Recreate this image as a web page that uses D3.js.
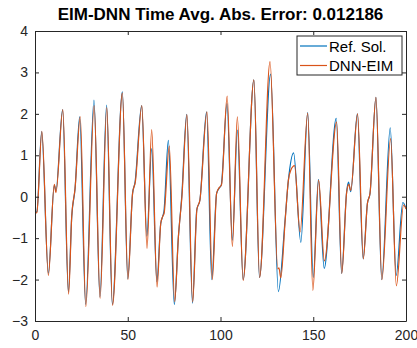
<!DOCTYPE html>
<html>
<head>
<meta charset="utf-8">
<script src="https://cdn.jsdelivr.net/npm/d3@7"></script>
<style>
  body { margin: 0; background: #fff; }
  text { font-family: "Liberation Sans", Arial, sans-serif; fill: #262626; }
</style>
</head>
<body>
<div id="chart"></div>
<script>
// reference solution (blue) at peaks, troughs and shoulders
const refTime = [0, 1.0, 3.6, 7.2, 10.4, 11.3, 14.9, 18.0, 19.8, 21.6, 24.1, 27.3, 31.8, 35.0, 38.6, 41.7,
  47.1, 50.0, 52.6, 53.9, 57.5, 60.3, 62.9, 65.7, 67.8, 68.8, 69.5, 71.9, 75.1, 77.3, 79.1, 81.8,
  84.9, 87.2, 88.9, 92.5, 95.3, 97.9, 99.2, 100.4, 103.5, 106.4, 109.1, 112.2, 118.0, 121.0, 127.0,
  131.2, 134.8, 136.6, 139.4, 143.3, 147.0, 150.0, 152.8, 155.9, 162.4, 165.3, 168.0, 169.0, 170.2,
  173.8, 176.9, 179.2, 180.6, 183.8, 186.9, 191.5, 194.7, 198.3, 200]
const refValue = [-0.38, -0.36, 1.57, -1.85, 0.28, 0.14, 2.1, -2.3, -0.48, 0.2, 1.93, -2.6, 2.33, -2.42, 2.21, -2.6,
  2.53, -1.98, 0.08, 0.34, 2.2, -0.95, 1.16, -2.05, -0.64, -0.48, -0.36, 1.36, -2.6, -0.97, 0.0, 1.99,
  -2.57, -0.32, -0.08, 2.05, -2.0, 0.08, 0.2, 0.28, 2.25, -1.05, 1.61, -2.0, 2.82, -1.95, 2.96,
  -2.29, -0.57, 0.4, 1.06, -1.1, 2.03, -1.95, 0.42, -1.73, 1.89, -1.85, 0.12, 0.35, 0.12,
  2.0, -1.5, -0.16, 0.08, 2.4, -2.0, 1.66, -1.9, -0.14, -0.28]

// DNN-EIM approximation (orange)
const eimTime = [0, 1.0, 3.7, 7.2, 10.4, 11.3, 15.0, 18.1, 19.8, 21.6, 24.4, 27.4, 31.9, 35.1, 38.7, 41.8,
  47.1, 50.1, 52.6, 54.1, 57.6, 60.4, 62.9, 65.8, 67.8, 68.8, 69.6, 72.4, 75.3, 77.3, 79.2, 81.9,
  85.0, 87.3, 88.9, 92.7, 95.6, 97.9, 99.3, 100.5, 103.6, 106.4, 109.1, 112.2, 118.0, 121.1, 126.7,
  130.9, 131.5, 132.5, 134.9, 136.6, 138.0, 139.9, 142.9, 147.0, 149.8, 152.9, 156.0, 162.6, 165.4,
  168.0, 169.2, 170.2, 173.9, 177.0, 179.2, 180.6, 183.8, 187.0, 191.7, 194.8, 198.7, 200]
const eimValue = [-0.4, -0.38, 1.58, -1.9, 0.3, 0.1, 2.1, -2.35, -0.48, 0.2, 1.93, -2.65, 2.2, -2.45, 2.15, -2.62,
  2.5, -2.0, 0.08, 0.36, 2.2, -1.25, 1.62, -2.18, -0.64, -0.48, -0.4, 1.22, -2.53, -0.97, 0.0, 1.98,
  -2.54, -0.3, -0.08, 2.05, -2.0, 0.08, 0.22, 0.28, 2.43, -1.2, 1.93, -2.02, 2.82, -1.95, 3.26,
  -1.74, -1.72, -1.96, -0.55, 0.4, 0.65, 0.75, -0.85, 2.02, -2.26, 0.4, -1.55, 1.8, -1.85,
  0.1, 0.3, 0.15, 2.0, -1.5, -0.16, 0.08, 2.4, -2.0, 1.4, -2.15, -0.2, -0.3]

const xTicks = [0, 50, 100, 150, 200]
const yTicks = [-3, -2, -1, 0, 1, 2, 3, 4]
const seriesNames = ["Ref. Sol.", "DNN-EIM"]
const seriesColors = ["#0072BD", "#D95319"]
const title = "EIM-DNN Time Avg. Abs. Error: 0.012186"

var margin = {top: 31, right: 11, bottom: 27, left: 35},
    width = 417 - margin.left - margin.right,
    height = 348 - margin.top - margin.bottom;

var svg = d3.select("#chart")
    .append("svg")
    .attr("width", 417)
    .attr("height", 348)

var g = svg.append("g")
    .attr("transform", "translate(" + margin.left + "," + margin.top + ")");

var x = d3.scaleLinear().domain([0, 200]).range([0, width]);
var y = d3.scaleLinear().domain([-3, 4]).range([height, 0]);

// series lines
var line = d3.line()
    .x(function(d) { return x(d[0]); })
    .y(function(d) { return y(d[1]); })
    .curve(d3.curveMonotoneX)

var series = [d3.zip(refTime, refValue), d3.zip(eimTime, eimValue)]
g.selectAll("path.series")
    .data(series)
    .enter()
    .append("path")
    .attr("class", "series")
    .attr("d", line)
    .attr("fill", "none")
    .attr("stroke", function(d, i) { return seriesColors[i]; })
    .attr("stroke-width", 1.2)

// axes, matlab style box with inward ticks
var axisColor = "#262626"
function styleAxis(sel) {
    sel.selectAll("path").attr("stroke", axisColor)
    sel.selectAll("line").attr("stroke", axisColor)
    sel.selectAll("text").attr("fill", axisColor).style("font-size", "14px")
}
g.append("g")
    .attr("transform", "translate(0," + height + ")")
    .call(d3.axisBottom(x).tickValues(xTicks).tickSizeInner(-4).tickSizeOuter(0).tickPadding(9))
    .call(styleAxis)
g.append("g")
    .call(d3.axisTop(x).tickValues(xTicks).tickSizeInner(-4).tickSizeOuter(0).tickFormat(""))
    .call(styleAxis)
g.append("g")
    .call(d3.axisLeft(y).tickValues(yTicks).tickSizeInner(-4).tickSizeOuter(0).tickPadding(7)
        .tickFormat(d3.format("d")))
    .call(styleAxis)
g.append("g")
    .attr("transform", "translate(" + width + ",0)")
    .call(d3.axisRight(y).tickValues(yTicks).tickSizeInner(-4).tickSizeOuter(0).tickFormat(""))
    .call(styleAxis)
g.selectAll(".domain").attr("stroke-width", 1)

// title
svg.append("text")
    .attr("x", margin.left + width / 2)
    .attr("y", 20)
    .attr("text-anchor", "middle")
    .style("font-size", "17px")
    .style("font-weight", "bold")
    .style("fill", "#000")
    .text(title)

// legend
var legend = g.append("g").attr("transform", "translate(" + (width - 109) + ",5)")
legend.append("rect")
    .attr("width", 105).attr("height", 39)
    .attr("fill", "#fff").attr("stroke", axisColor).attr("stroke-width", 1)
seriesNames.forEach(function(name, i) {
    var row = legend.append("g").attr("transform", "translate(0," + (10 + i * 19.5) + ")")
    row.append("line").attr("x1", 3).attr("x2", 30)
        .attr("stroke", seriesColors[i]).attr("stroke-width", 1.2)
    row.append("text").attr("x", 32).attr("y", 5.5)
        .style("font-size", "15px").style("fill", "#000").text(name)
})
</script>
</body>
</html>
